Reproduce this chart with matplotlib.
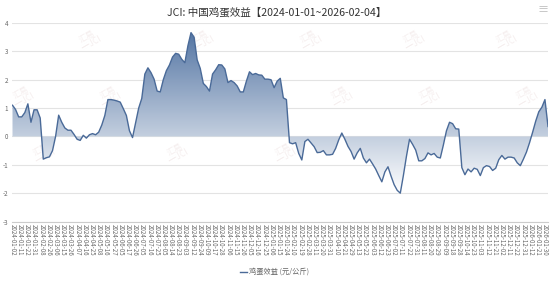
import matplotlib
matplotlib.use('Agg')
import matplotlib.pyplot as plt  # type: ignore
from matplotlib.colors import LinearSegmentedColormap  # type: ignore
import numpy as np

plt.rcParams['font.family'] = ['Noto Sans CJK SC', 'DejaVu Sans']

TITLE = 'JCI: 中国鸡蛋效益【2024-01-01~2026-02-04】'
SERIES_NAME = '鸡蛋效益 (元/公斤)'
N_DAYS = 522  # trading days 2024-01-02 .. 2026-02-04
TICK_STEP = 7

tick_labels = [
    '2024-01-02', '2024-01-11', '2024-01-22', '2024-01-31', '2024-02-08',
    '2024-02-26', '2024-03-06', '2024-03-15', '2024-03-26', '2024-04-07',
    '2024-04-16', '2024-04-25', '2024-05-08', '2024-05-16', '2024-05-27',
    '2024-06-05', '2024-06-17', '2024-06-26', '2024-07-05', '2024-07-16',
    '2024-07-25', '2024-08-05', '2024-08-14', '2024-08-23', '2024-09-03',
    '2024-09-12', '2024-09-24', '2024-10-09', '2024-10-17', '2024-10-28',
    '2024-11-06', '2024-11-15', '2024-11-26', '2024-12-05', '2024-12-16',
    '2024-12-25', '2025-01-06', '2025-01-15', '2025-01-24', '2025-02-10',
    '2025-02-19', '2025-02-28', '2025-03-11', '2025-03-20', '2025-03-31',
    '2025-04-10', '2025-04-21', '2025-04-29', '2025-05-13', '2025-05-22',
    '2025-06-03', '2025-06-12', '2025-06-23', '2025-07-02', '2025-07-11',
    '2025-07-22', '2025-07-31', '2025-08-11', '2025-08-20', '2025-08-29',
    '2025-09-09', '2025-09-18', '2025-09-28', '2025-10-14', '2025-10-23',
    '2025-11-03', '2025-11-12', '2025-11-21', '2025-12-02', '2025-12-11',
    '2025-12-22', '2025-12-31', '2026-01-12', '2026-01-21', '2026-01-30',
]

# egg profit (yuan/kg), every 3 trading days
profit = [
    1.10, 0.95, 0.69, 0.69, 0.84, 1.15, 0.50, 0.94, 0.94, 0.65,
    -0.80, -0.75, -0.72, -0.50, 0.00, 0.75, 0.50, 0.30, 0.22, 0.22,
    0.07, -0.10, -0.14, 0.04, -0.06, 0.06, 0.10, 0.06, 0.15, 0.40,
    0.74, 1.30, 1.30, 1.28, 1.25, 1.21, 0.98, 0.74, 0.20, -0.04,
    0.48, 1.00, 1.34, 2.20, 2.42, 2.25, 2.02, 1.60, 1.57, 2.00,
    2.32, 2.52, 2.80, 2.93, 2.90, 2.72, 2.60, 3.20, 3.66, 3.50,
    2.70, 2.40, 1.87, 1.76, 1.60, 2.20, 2.35, 2.53, 2.52, 2.38,
    1.90, 1.97, 1.90, 1.78, 1.57, 1.57, 1.95, 2.28, 2.18, 2.22,
    2.17, 2.16, 2.02, 2.02, 2.00, 1.72, 1.95, 2.05, 1.36, 1.30,
    -0.22, -0.26, -0.22, -0.60, -0.83, -0.18, -0.10, -0.23, -0.36, -0.57,
    -0.56, -0.50, -0.65, -0.65, -0.63, -0.42, -0.12, 0.12, -0.10, -0.35,
    -0.53, -0.80, -0.58, -0.42, -0.76, -0.93, -0.80, -0.97, -1.15, -1.38,
    -1.60, -1.25, -1.07, -1.40, -1.70, -1.90, -2.00, -1.38, -0.70, -0.10,
    -0.28, -0.48, -0.86, -0.86, -0.78, -0.58, -0.65, -0.60, -0.73, -0.76,
    -0.30, 0.20, 0.50, 0.45, 0.27, 0.26, -1.10, -1.35, -1.15, -1.25,
    -1.12, -1.16, -1.38, -1.10, -1.03, -1.06, -1.20, -1.12, -0.82, -0.67,
    -0.80, -0.73, -0.73, -0.76, -0.93, -1.03, -0.80, -0.55, -0.22, 0.15,
    0.54, 0.87, 1.03, 1.30, 0.35,
]

y_ticks = [-3, -2, -1, 0, 1, 2, 3, 4]

LINE_COLOR = '#4a6a98'
GRID_COLOR = '#e3e3e3'
TEXT_COLOR = '#666666'

fig = plt.figure(figsize=(5.53, 2.81), dpi=100)
ax = fig.add_axes([0.0226, 0.2117, 0.9684, 0.7064])

x = np.linspace(0, N_DAYS - 1, len(profit))
y = np.array(profit)

# gradient area from the line down to zero, dark at the top fading to white
fill = ax.fill_between(x, y, 0, color='none', linewidth=0)
cmap = LinearSegmentedColormap.from_list('area', ['#ffffff', '#5576a4'])
grad = np.linspace(0, 1, 256).reshape(-1, 1)
im = ax.imshow(grad, extent=[0, N_DAYS - 1, y.min(), y.max()],
               origin='lower', aspect='auto', cmap=cmap, zorder=1,
               interpolation='bilinear')
im.set_clip_path(fill.get_paths()[0], transform=ax.transData)
ax.plot(x, y, color=LINE_COLOR, linewidth=1.0, zorder=3)

# faint watermark logos
marks = [(75, 3.4), (185, 3.4), (290, 3.4), (390, 3.4), (480, 3.4),
         (10, 1.4), (95, 1.4), (205, 1.4), (320, 1.4), (405, 1.4), (500, 1.4),
         (30, -0.6), (160, -0.6), (265, -0.6), (360, -0.6), (450, -0.6)]
for mx, my in marks:
    ax.text(mx, my, '汇易\n━JCI', fontsize=6, color='#f3eaea', rotation=30,
            ha='center', va='center', zorder=0.5, linespacing=0.9,
            alpha=0.8)

ax.set_xlim(0, N_DAYS - 1)
ax.set_ylim(-3, 4)
for side in ['top', 'right', 'left']:
    ax.spines[side].set_visible(False)
ax.spines['bottom'].set_color('#cccccc')
ax.spines['bottom'].set_linewidth(0.8)

ax.set_yticks(y_ticks)
ax.set_yticklabels([str(v) for v in y_ticks], fontsize=4.5, color=TEXT_COLOR)
ax.yaxis.grid(True, color=GRID_COLOR, linewidth=0.8, zorder=0)
ax.set_axisbelow(True)
ax.tick_params(axis='y', length=0, pad=3)

ax.set_xticks(np.arange(len(tick_labels)) * TICK_STEP)
ax.set_xticklabels(tick_labels, rotation=270, fontsize=4.4,
                   color=TEXT_COLOR, va='top', ha='center')
ax.tick_params(axis='x', length=0, pad=2)

fig.text(0.5, 0.955, TITLE, ha='center', va='center', fontsize=7.6,
         color='#333333')
fig.text(0.982, 0.963, '≡', ha='center', va='center', fontsize=8,
         color='#bbbbbb')

# legend
fig.lines.append(plt.Line2D([0.434, 0.446], [0.032, 0.032],
                            transform=fig.transFigure, color=LINE_COLOR,
                            linewidth=1.0))
fig.text(0.450, 0.032, SERIES_NAME, ha='left', va='center', fontsize=5.2,
         color=TEXT_COLOR)

fig.savefig('out.png', dpi=100)
